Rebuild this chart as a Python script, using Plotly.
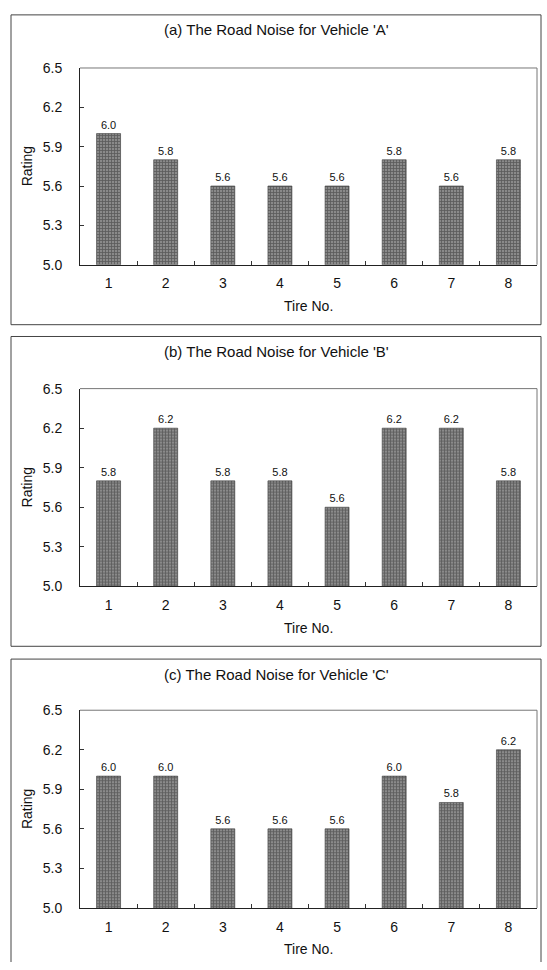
import plotly.graph_objects as go
from plotly.subplots import make_subplots

# Road-noise ratings per tire, one list per test vehicle
tires = ["1", "2", "3", "4", "5", "6", "7", "8"]
rating_a = [6.0, 5.8, 5.6, 5.6, 5.6, 5.8, 5.6, 5.8]
rating_b = [5.8, 6.2, 5.8, 5.8, 5.6, 6.2, 6.2, 5.8]
rating_c = [6.0, 6.0, 5.6, 5.6, 5.6, 6.0, 5.8, 6.2]
panel_titles = [
    "(a) The Road Noise for Vehicle 'A'",
    "(b) The Road Noise for Vehicle 'B'",
    "(c) The Road Noise for Vehicle 'C'",
]
y_ticks = [5.0, 5.3, 5.6, 5.9, 6.2, 6.5]

W, H = 547, 970
FONT = "Liberation Sans, Arial, sans-serif"

# pixel layout of each panel: (frame_top, frame_bottom, title_y, plot_top, plot_bottom)
# frame_bottom of None leaves the frame open at the page edge
panels = [
    (7, 322, 22, 61, 261),
    (334, 649, 349, 387, 588),
    (662, None, 678, 714, 915),
]
plot_x0, plot_x1 = 80, 537
frame_x0, frame_x1 = 11, 541


def px_x(v):
    return v / W


def px_y(v):
    return 1 - v / H


def frame_line(x0, y0, x1, y1):
    return dict(type="line", xref="paper", yref="paper",
                x0=px_x(x0), x1=px_x(x1), y0=px_y(y0), y1=px_y(y1),
                line=dict(color="#444", width=1))


fig = make_subplots(rows=3, cols=1)

series = [rating_a, rating_b, rating_c]
shapes = []
annotations = []

for i, (vals, title, geo) in enumerate(zip(series, panel_titles, panels)):
    row = i + 1
    f_top, f_bot, t_y, p_top, p_bot = geo
    fig.add_trace(
        go.Bar(
            x=tires,
            y=vals,
            width=0.42,
            marker=dict(
                color="#8a8a8a",
                line=dict(color="#3a3a3a", width=0.6),
                pattern=dict(shape="+", fgcolor="#2a2a2a", size=3, solidity=0.45),
            ),
            texttemplate="%{y:.1f}",
            textposition="outside",
            textfont=dict(family=FONT, size=11, color="#111"),
            cliponaxis=False,
            showlegend=False,
        ),
        row=row,
        col=1,
    )
    xa = "xaxis" if row == 1 else f"xaxis{row}"
    ya = "yaxis" if row == 1 else f"yaxis{row}"
    fig.layout[xa].update(
        domain=[px_x(plot_x0), px_x(plot_x1)],
        type="category",
        tickson="boundaries",
        ticks="inside",
        ticklen=4,
        tickcolor="#333",
        showline=True,
        linecolor="#222",
        linewidth=1,
        showgrid=False,
        zeroline=False,
        ticklabelstandoff=6,
        tickfont=dict(family=FONT, size=14, color="#111"),
    )
    fig.layout[ya].update(
        domain=[px_y(p_bot), px_y(p_top)],
        range=[5.0, 6.5],
        tickvals=y_ticks,
        ticktext=[f"{v:.1f}" for v in y_ticks],
        ticks="inside",
        ticklen=4,
        tickcolor="#333",
        showline=True,
        linecolor="#222",
        linewidth=1,
        showgrid=False,
        zeroline=False,
        ticklabelstandoff=14,
        tickfont=dict(family=FONT, size=14, color="#111"),
    )
    # upper and right edges of the plot box
    shapes.append(dict(type="line", xref="paper", yref="paper",
                       x0=px_x(plot_x0), x1=px_x(plot_x1), y0=px_y(p_top), y1=px_y(p_top),
                       line=dict(color="#777", width=1)))
    shapes.append(dict(type="line", xref="paper", yref="paper",
                       x0=px_x(plot_x1), x1=px_x(plot_x1), y0=px_y(p_top), y1=px_y(p_bot),
                       line=dict(color="#777", width=1)))
    # panel frame
    bottom = f_bot if f_bot is not None else H
    shapes.append(frame_line(frame_x0, f_top, frame_x1, f_top))
    shapes.append(frame_line(frame_x0, f_top, frame_x0, bottom))
    shapes.append(frame_line(frame_x1, f_top, frame_x1, bottom))
    if f_bot is not None:
        shapes.append(frame_line(frame_x0, f_bot, frame_x1, f_bot))
    # panel title
    annotations.append(dict(text=title, xref="paper", yref="paper",
                            x=px_x(277), y=px_y(t_y), xanchor="center", yanchor="middle",
                            showarrow=False, font=dict(family=FONT, size=15, color="#111")))
    # axis titles
    annotations.append(dict(text="Rating", textangle=-90, xref="paper", yref="paper",
                            x=px_x(27), y=px_y((p_top + p_bot) / 2), xanchor="center",
                            yanchor="middle", showarrow=False,
                            font=dict(family=FONT, size=14, color="#111")))
    annotations.append(dict(text="Tire No.", xref="paper", yref="paper",
                            x=px_x((plot_x0 + plot_x1) / 2), y=px_y(p_bot + 42),
                            xanchor="center", yanchor="middle", showarrow=False,
                            font=dict(family=FONT, size=14, color="#111")))

fig.update_layout(
    width=W,
    height=H,
    margin=dict(l=0, r=0, t=0, b=0),
    paper_bgcolor="white",
    plot_bgcolor="white",
    bargap=0.58,
    shapes=shapes,
    annotations=annotations,
)

fig.write_html("out.html")
